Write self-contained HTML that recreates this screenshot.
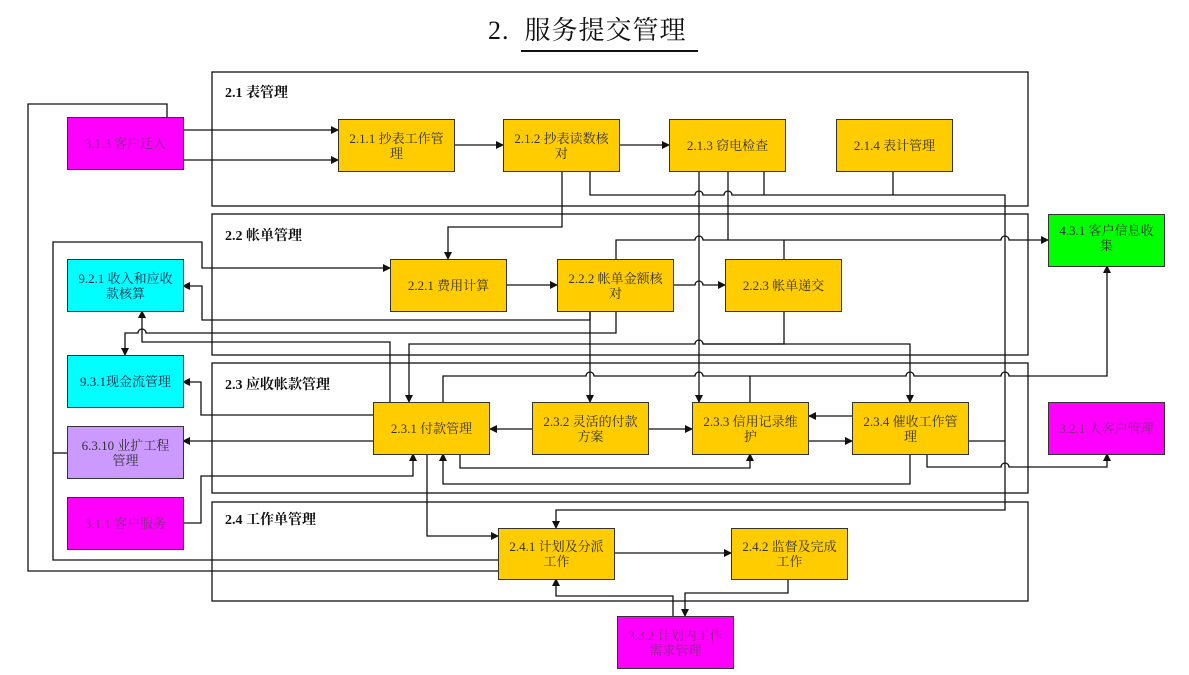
<!DOCTYPE html>
<html><head><meta charset="utf-8"><style>
body{margin:0;background:#fff;width:1189px;height:675px;overflow:hidden;position:relative;font-family:"Liberation Serif","Noto Serif CJK SC",serif}
.b{position:absolute;border:1.5px solid #333;box-sizing:border-box;display:flex;align-items:center;justify-content:center;text-align:center;font-size:13px;line-height:15px;color:#333;padding:0 2px}
.y{background:#ffcc00}.m{background:#ff00ff;color:#8a2a8a}.c{background:#00ffff;color:#224}.g{background:#00ff00}.l{background:#cc99ff}
.gl{position:absolute;font-size:14px;font-weight:bold;color:#111}
svg{position:absolute;left:0;top:0}
</style></head><body>
<div style="position:absolute;left:488px;top:10px;font-size:26px;color:#111;letter-spacing:1px">2.&nbsp; 服务提交管理</div>
<div style="position:absolute;left:521px;top:50px;width:177px;height:2px;background:#111"></div>
<svg width="1189" height="675" viewBox="0 0 1189 675">
<defs><marker id="a" markerWidth="8" markerHeight="8" refX="7" refY="4" orient="auto" markerUnits="userSpaceOnUse"><path d="M0,0L8,4L0,8z" fill="#111"/></marker></defs>
<g fill="none" stroke="#111" stroke-width="1.3">
<rect x="212" y="72" width="816" height="134"/>
<rect x="212" y="214" width="816" height="141"/>
<rect x="212" y="363" width="816" height="130"/>
<rect x="212" y="502" width="816" height="99"/>
<!-- 3.1.3 -->
<path d="M498,571H28V104H167V130H338" marker-end="url(#a)"/>
<path d="M183,160H338" marker-end="url(#a)"/>
<path d="M455,145H503" marker-end="url(#a)"/>
<path d="M620,145H669" marker-end="url(#a)"/>
<path d="M562,171V227H448V259" marker-end="url(#a)"/>
<path d="M590,171V195H695a4,4 0 0 1 8,0H724a4,4 0 0 1 8,0H1005V510H556V528" marker-end="url(#a)"/>
<path d="M764,171V195M893,171V195"/>
<path d="M699,171V402" marker-end="url(#a)"/>
<path d="M728,171V240"/>
<path d="M616,259V240H695a4,4 0 0 1 8,0H1001a4,4 0 0 1 8,0H1048" marker-end="url(#a)"/>
<path d="M784,259V240"/>
<path d="M507,285H557" marker-end="url(#a)"/>
<path d="M674,285H695a4,4 0 0 1 8,0H725" marker-end="url(#a)"/>
<path d="M590,311V320H202V286H183" marker-end="url(#a)"/>
<path d="M498,560H53V242H202V268H390" marker-end="url(#a)"/>
<path d="M53,453H67"/>
<path d="M616,311V333H146a4,4 0 0 0 -8,0H125V355" marker-end="url(#a)"/>
<path d="M390,402V342H142V311" marker-end="url(#a)"/>
<path d="M784,311V344H703a4,4 0 0 0 -8,0H409V402" marker-end="url(#a)"/>
<path d="M703,344H910V402" marker-end="url(#a)"/>
<path d="M590,311V402" marker-end="url(#a)"/>
<path d="M443,402V376H586a4,4 0 0 1 8,0H695a4,4 0 0 1 8,0H906a4,4 0 0 1 8,0H1001a4,4 0 0 1 8,0H1107V266" marker-end="url(#a)"/>
<path d="M750,402V376"/>
<path d="M373,415H201V382H183" marker-end="url(#a)"/>
<path d="M373,441H183" marker-end="url(#a)"/>
<path d="M183,523H201V476H413V454" marker-end="url(#a)"/>
<path d="M532,429H490" marker-end="url(#a)"/>
<path d="M649,429H692" marker-end="url(#a)"/>
<path d="M852,416H809" marker-end="url(#a)"/>
<path d="M809,441H852" marker-end="url(#a)"/>
<path d="M460,454V468H750V454" marker-end="url(#a)"/>
<path d="M910,454V484H443V454" marker-end="url(#a)"/>
<path d="M927,454V467H1001a4,4 0 0 1 8,0H1107V454" marker-end="url(#a)"/>
<path d="M969,441H1005"/>
<path d="M427,454V536H498" marker-end="url(#a)"/>
<path d="M614,553H731" marker-end="url(#a)"/>
<path d="M788,579V593H685V616" marker-end="url(#a)"/>
<path d="M673,616V596H556V579" marker-end="url(#a)"/>
</g>
</svg>
<div class="gl" style="left:225px;top:82px">2.1 表管理</div>
<div class="gl" style="left:225px;top:225px">2.2 帐单管理</div>
<div class="gl" style="left:225px;top:374px">2.3 应收帐款管理</div>
<div class="gl" style="left:225px;top:509px">2.4 工作单管理</div>

<div class="b m" style="left:67px;top:117px;width:117px;height:53px">3.1.3 客户迁入</div>
<div class="b y" style="left:338px;top:119px;width:117px;height:53px">2.1.1 抄表工作管<br>理</div>
<div class="b y" style="left:503px;top:119px;width:117px;height:53px">2.1.2 抄表读数核<br>对</div>
<div class="b y" style="left:669px;top:119px;width:117px;height:53px">2.1.3 窃电检查</div>
<div class="b y" style="left:836px;top:119px;width:117px;height:53px">2.1.4 表计管理</div>
<div class="b g" style="left:1048px;top:214px;width:117px;height:53px;align-items:flex-start;padding-top:8px">4.3.1 客户信息收<br>集</div>
<div class="b c" style="left:67px;top:259px;width:117px;height:53px">9.2.1 收入和应收<br>款核算</div>
<div class="b y" style="left:390px;top:259px;width:117px;height:53px">2.2.1 费用计算</div>
<div class="b y" style="left:557px;top:259px;width:117px;height:53px">2.2.2 帐单金额核<br>对</div>
<div class="b y" style="left:725px;top:259px;width:117px;height:53px">2.2.3 帐单递交</div>
<div class="b c" style="left:67px;top:355px;width:117px;height:53px;align-items:flex-start;padding-top:18px">9.3.1现金流管理</div>
<div class="b l" style="left:67px;top:426px;width:117px;height:53px">6.3.10 业扩工程<br>管理</div>
<div class="b m" style="left:67px;top:497px;width:117px;height:53px">3.1.1 客户服务</div>
<div class="b y" style="left:373px;top:402px;width:117px;height:53px">2.3.1 付款管理</div>
<div class="b y" style="left:532px;top:402px;width:117px;height:53px">2.3.2 灵活的付款<br>方案</div>
<div class="b y" style="left:692px;top:402px;width:117px;height:53px">2.3.3 信用记录维<br>护</div>
<div class="b y" style="left:852px;top:402px;width:117px;height:53px">2.3.4 催收工作管<br>理</div>
<div class="b m" style="left:1048px;top:402px;width:117px;height:53px">3.2.1 大客户管理</div>
<div class="b y" style="left:498px;top:528px;width:117px;height:52px">2.4.1 计划及分派<br>工作</div>
<div class="b y" style="left:731px;top:528px;width:117px;height:52px">2.4.2 监督及完成<br>工作</div>
<div class="b m" style="left:617px;top:616px;width:117px;height:53px">3.3.2 计划内工作<br>需求管理</div>
</body></html>
